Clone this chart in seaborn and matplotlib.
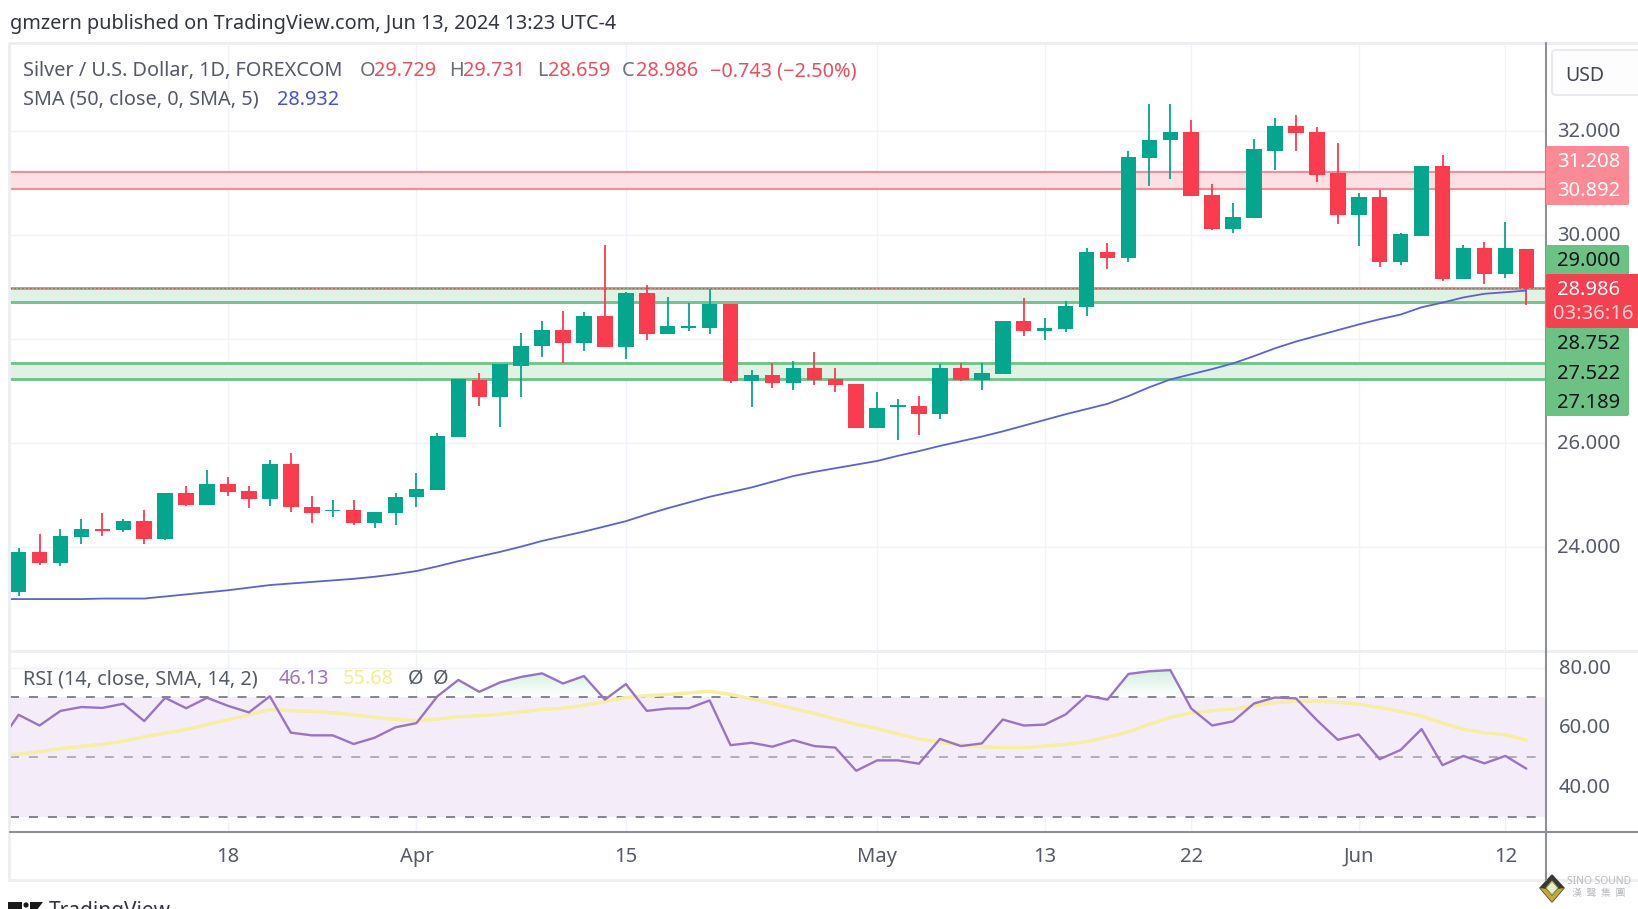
"""Silver / USD daily candles with SMA and RSI, TradingView look."""

import matplotlib
matplotlib.use("Agg")
import matplotlib.pyplot as plt
from matplotlib.patches import Circle, FancyBboxPatch, Polygon, Rectangle
from matplotlib.path import Path
import numpy as np
import pandas as pd
import seaborn as sns

sns.set_theme(style="white")
plt.rcParams["font.family"] = ["Noto Sans", "DejaVu Sans"]

UP = "#04a68d"
DOWN = "#fb3b4e"

# candles, from Mar 4 to Jun 13 2024
opens = [23.12, 23.90, 23.68, 24.18, 24.34, 24.32, 24.50, 24.15, 25.03, 24.81, 25.20, 25.07, 24.92, 25.60, 24.77,
         24.68, 24.70, 24.45, 24.65, 24.95, 25.09, 26.12, 27.21, 26.88, 27.48, 27.86, 28.18, 27.92, 28.44, 27.85,
         28.88, 28.09, 28.22, 28.22, 28.68, 27.19, 27.31, 27.16, 27.44, 27.23, 27.14, 26.28, 26.69, 26.71, 26.55,
         27.44, 27.21, 27.32, 28.35, 28.15, 28.19, 28.62, 29.68, 29.55, 31.49, 31.83, 31.98, 30.77, 30.12, 30.33,
         31.62, 32.11, 31.98, 31.19, 30.39, 30.74, 29.49, 29.99, 31.34, 29.15, 29.75, 29.25, 29.729]
closes = [23.90, 23.68, 24.20, 24.34, 24.31, 24.50, 24.15, 25.04, 24.81, 25.20, 25.05, 24.92, 25.60, 24.76, 24.65,
          24.70, 24.45, 24.66, 24.96, 25.11, 26.13, 27.22, 26.88, 27.51, 27.87, 28.17, 27.92, 28.44, 27.85, 28.88,
          28.09, 28.24, 28.25, 28.68, 27.19, 27.31, 27.16, 27.44, 27.21, 27.12, 26.28, 26.67, 26.71, 26.55, 27.44,
          27.21, 27.34, 28.35, 28.15, 28.21, 28.64, 29.68, 29.55, 31.51, 31.84, 31.98, 30.75, 30.12, 30.34, 31.65,
          32.11, 31.96, 31.16, 30.39, 30.74, 29.49, 30.02, 31.34, 29.15, 29.75, 29.26, 29.75, 28.986]
highs = [23.97, 24.24, 24.34, 24.54, 24.64, 24.54, 24.71, 25.04, 25.17, 25.47, 25.34, 25.17, 25.67, 25.81, 24.97,
         24.90, 24.90, 24.66, 25.03, 25.41, 26.19, 27.22, 27.35, 27.51, 28.11, 28.34, 28.54, 28.51, 29.81, 28.91,
         29.04, 28.81, 28.69, 28.96, 28.68, 27.41, 27.53, 27.58, 27.74, 27.45, 27.14, 26.97, 26.84, 26.91, 27.52,
         27.54, 27.53, 28.35, 28.78, 28.41, 28.73, 29.75, 29.84, 31.62, 32.52, 32.52, 32.22, 30.98, 30.61, 31.85,
         32.25, 32.31, 32.09, 31.78, 30.82, 30.87, 30.05, 31.34, 31.54, 29.81, 29.87, 30.25, 29.731]
lows = [23.05, 23.64, 23.62, 24.06, 24.21, 24.28, 24.06, 24.12, 24.78, 24.81, 24.98, 24.74, 24.78, 24.67, 24.45,
        24.57, 24.41, 24.35, 24.41, 24.77, 25.09, 26.12, 26.71, 26.31, 26.88, 27.65, 27.54, 27.77, 27.85, 27.62,
        27.98, 28.09, 28.15, 28.09, 27.16, 26.68, 27.05, 27.02, 27.11, 26.98, 26.28, 26.28, 26.05, 26.15, 26.45,
        27.19, 27.02, 27.32, 28.06, 27.98, 28.13, 28.45, 29.35, 29.49, 30.95, 31.09, 30.75, 30.09, 30.05, 30.33,
        31.25, 31.62, 31.02, 30.22, 29.79, 29.39, 29.42, 29.99, 29.12, 29.15, 29.05, 29.18, 28.659]

# both indicators hold one bar before the first candle, it runs off the left edge
sma = [22.99, 22.99, 22.99, 22.99, 22.99, 23.00, 23.00, 23.00, 23.04, 23.08, 23.12, 23.16, 23.21, 23.26, 23.29,
       23.32, 23.35, 23.38, 23.42, 23.47, 23.53, 23.62, 23.72, 23.81, 23.90, 24.00, 24.11, 24.20, 24.29, 24.39,
       24.49, 24.62, 24.74, 24.85, 24.96, 25.05, 25.14, 25.25, 25.36, 25.44, 25.51, 25.58, 25.65, 25.75, 25.84,
       25.94, 26.03, 26.12, 26.22, 26.33, 26.44, 26.55, 26.65, 26.75, 26.90, 27.07, 27.22, 27.32, 27.42, 27.53,
       27.67, 27.82, 27.95, 28.06, 28.17, 28.28, 28.38, 28.47, 28.61, 28.70, 28.80, 28.87, 28.90, 28.932]
rsi = [54.0, 64.2, 60.6, 65.5, 66.8, 66.5, 67.9, 62.1, 69.9, 66.4, 69.9, 67.2, 65.0, 70.4, 58.2,
       57.3, 57.3, 54.4, 56.5, 60.0, 61.4, 70.4, 75.9, 71.9, 75.1, 76.9, 78.1, 74.7, 77.2, 69.3,
       74.5, 65.5, 66.3, 66.4, 69.0, 54.0, 54.8, 53.5, 55.7, 53.7, 53.2, 45.4, 48.9, 48.9, 47.8,
       56.1, 53.7, 54.6, 62.6, 60.6, 60.9, 64.3, 70.6, 69.3, 77.9, 78.8, 79.2, 66.3, 60.6, 62.0,
       68.0, 70.0, 69.7, 62.4, 55.8, 57.6, 49.3, 52.4, 59.4, 47.3, 50.4, 47.9, 50.4, 46.13]
rsi_ma = [50.4, 51.0, 51.8, 52.9, 53.6, 54.3, 55.3, 56.8, 58.0, 59.3, 60.9, 62.5, 64.2, 65.9, 65.6,
          65.3, 64.9, 64.2, 63.3, 62.7, 62.2, 62.8, 63.5, 63.9, 64.4, 65.2, 66.0, 66.4, 67.4, 68.6,
          70.0, 70.6, 71.0, 71.5, 72.1, 71.0, 69.5, 68.0, 66.3, 64.7, 62.8, 61.0, 59.6, 57.8, 56.1,
          55.0, 54.1, 53.5, 53.2, 53.2, 53.7, 54.3, 55.2, 56.7, 58.5, 61.0, 63.3, 64.8, 65.6, 66.1,
          67.2, 68.3, 68.7, 68.8, 68.4, 67.8, 66.6, 65.3, 63.8, 61.4, 59.3, 58.2, 57.5, 55.68]

# zones as drawn, the tags beside them round a little differently
red_zone = [30.88, 31.21]
green_zone_high = [28.71, 28.98]
green_zone_low = [27.22, 27.54]

time_ticks = [10, 19, 29, 41, 49, 56, 64, 71]
time_labels = ["18", "Apr", "15", "May", "13", "22", "Jun", "12"]
price_ticks = [24, 26, 28, 30, 32]
price_labels = ["24.000", "26.000", "", "30.000", "32.000"]
rsi_ticks = [40, 60, 80]
rsi_labels = ["40.00", "60.00", "80.00"]

W, H = 1638, 909
X0, X1 = 10, 1546
MAIN_TOP, MAIN_BOT, RSI_BOT = 43, 651, 832
TEXT = 14.3


def to_idx(px):
    return (px - 18.6) / 20.94


def add_axes(fig, top, bottom):
    ax = fig.add_axes([X0 / W, 1 - bottom / H, (X1 - X0) / W, (bottom - top) / H])
    ax.set_xlim(to_idx(X0), to_idx(X1))
    ax.set_xticks(time_ticks)
    ax.set_xticklabels([])
    ax.grid(axis="both", color="#f0f3fa", linewidth=1)
    ax.set_axisbelow(True)
    ax.tick_params(length=0, labelleft=False)
    sns.despine(ax=ax, left=True, bottom=True, top=True, right=True)
    return ax


def draw_candles(ax):
    df = pd.DataFrame({"o": opens, "c": closes, "h": highs, "l": lows})
    df["idx"] = df.index
    df["color"] = np.where(df["c"] >= df["o"], UP, DOWN)
    ax.vlines(df["idx"], df["l"], df["h"], colors=df["color"], linewidth=1.3, zorder=4)
    low_edge = df[["o", "c"]].min(axis=1)
    height = (df["c"] - df["o"]).abs().clip(lower=0.03)
    ax.bar(df["idx"], height, bottom=low_edge, width=0.74, color=df["color"], linewidth=0, zorder=5)


def draw_main(fig):
    ax = add_axes(fig, MAIN_TOP, MAIN_BOT)
    ax.set_ylim(21.99, 33.70)
    ax.set_yticks(price_ticks)
    for (lo, hi), col, fill, lw in [(red_zone, "#ef8f9a", "#fde0e3", 1.6),
                                    (green_zone_high, "#72c48a", "#dff2e3", 2.1),
                                    (green_zone_low, "#72c48a", "#dff2e3", 2.1)]:
        ax.axhspan(lo, hi, facecolor=fill, edgecolor="none", zorder=1)
        ax.axhline(lo, color=col, linewidth=lw, zorder=2)
        ax.axhline(hi, color=col, linewidth=lw, zorder=2)
    ax.axhline(closes[-1], color=DOWN, linewidth=0.8, linestyle=(0, (1.5, 2)), zorder=3)
    draw_candles(ax)
    sns.lineplot(x=np.arange(-1, len(sma) - 1), y=sma, ax=ax, color="#5a62d8", linewidth=1.3, zorder=6)
    ax.set_xlim(to_idx(X0), to_idx(X1))
    return ax


def draw_rsi(fig):
    ax = add_axes(fig, MAIN_BOT, RSI_BOT)
    ax.set_ylim(24.87, 85.6)
    ax.set_yticks(rsi_ticks)
    idx = np.arange(-1, len(rsi) - 1)
    ax.axhspan(30, 70, facecolor="#f4edf9", edgecolor="none", zorder=1)

    # green fade between the RSI line and the 70 level
    poly = ax.fill_between(idx, rsi, 70, where=np.array(rsi) > 70, interpolate=True, alpha=0)
    fade = np.linspace(0, 1, 64).reshape(-1, 1)
    img = ax.imshow(fade, extent=(idx[0], idx[-1], 70, 80), origin="upper", aspect="auto",
                    cmap=matplotlib.colors.LinearSegmentedColormap.from_list("fade", ["#cfeedb", "#ffffff"]),
                    zorder=2)
    img.set_clip_path(Path.make_compound_path(*poly.get_paths()), transform=ax.transData)

    for level, col in [(70, "#787b86"), (50, "#a8aab2"), (30, "#787b86")]:
        ax.axhline(level, color=col, linewidth=1.3, linestyle=(0, (5, 5.5)), zorder=3)
    sns.lineplot(x=idx, y=rsi_ma, ax=ax, color="#f6eea0", linewidth=2.5, zorder=4)
    sns.lineplot(x=idx, y=rsi, ax=ax, color="#9a74c0", linewidth=1.7, zorder=5)
    ax.set_xlim(to_idx(X0), to_idx(X1))
    ax.set_ylim(24.87, 85.6)
    ax.set_xlabel("")
    return ax


def tag(ov, top, bottom, color, right=1629):
    ov.add_patch(FancyBboxPatch((1546, top), right - 1546, bottom - top, boxstyle="round,pad=0,rounding_size=2",
                                facecolor=color, edgecolor="none", zorder=3))


def draw_chrome(fig, main_ax, rsi_ax):
    ov = fig.add_axes([0, 0, 1, 1], facecolor="none")
    ov.set_xlim(0, W)
    ov.set_ylim(H, 0)
    ov.axis("off")

    # frame and separators
    ov.add_patch(Rectangle((X0 - 1, MAIN_TOP), W - X0 + 2, 880 - MAIN_TOP, fill=False, edgecolor="#eceef2", linewidth=2))
    ov.plot([X0, W], [MAIN_BOT, MAIN_BOT], color="#eceef2", linewidth=2)
    ov.plot([X0, W], [RSI_BOT, RSI_BOT], color="#8e9097", linewidth=1.5)
    ov.plot([X1, X1], [MAIN_TOP, 880], color="#8e9097", linewidth=1.5)

    base = dict(ha="left", va="center", fontsize=TEXT, color="#555a66")
    ov.text(10, 24, "gmzern published on TradingView.com, Jun 13, 2024 13:23 UTC-4", **{**base, "color": "#33363f"})
    ov.text(23, 71, "Silver / U.S. Dollar, 1D, FOREXCOM", **base)
    row = [(360, "O", "#6b6f7a"), (374, "29.729", "#e8505e"), (449, "H", "#6b6f7a"), (463, "29.731", "#e8505e"),
           (537, "L", "#6b6f7a"), (548, "28.659", "#e8505e"), (622, "C", "#6b6f7a"), (636, "28.986", "#e8505e"),
           (710, "\u22120.743 (\u22122.50%)", "#e8505e")]
    for x, s, col in row:
        ov.text(x, 71, s, **{**base, "color": col})
    ov.text(23, 100, "SMA (50, close, 0, SMA, 5)", **base)
    ov.text(277, 100, "28.932", **{**base, "color": "#4a50d8"})
    ov.text(23, 679, "RSI (14, close, SMA, 14, 2)", **base)
    ov.text(279, 679, "46.13", **{**base, "color": "#9a74c0"})
    ov.text(343, 679, "55.68", **{**base, "color": "#f4ee8e"})
    ov.text(408, 679, "\u00d8", **base)
    ov.text(433, 679, "\u00d8", **base)

    # axis labels, through the panes' own scales
    for val, s in zip(price_ticks, price_labels):
        y = H - main_ax.transData.transform((0, val))[1] * H / fig.bbox.height
        ov.text(1589, y + 1, s, ha="center", va="center", fontsize=14.5, color="#555a66")
    for val, s in zip(rsi_ticks, rsi_labels):
        y = H - rsi_ax.transData.transform((0, val))[1] * H / fig.bbox.height
        ov.text(1585, y + 1, s, ha="center", va="center", fontsize=14.5, color="#555a66")
    for val, s in zip(time_ticks, time_labels):
        x = main_ax.transData.transform((val, 0))[0] * W / fig.bbox.width
        ov.text(x, 857, s, ha="center", va="center", fontsize=14.5, color="#555a66")

    # price tags
    tag(ov, 146, 205, "#fb8a95")
    tag(ov, 245, 276, "#6cc285")
    tag(ov, 326, 416, "#6cc285")
    tag(ov, 274, 328, "#f5404f", right=W + 3)
    for y, s, col in [(162, "31.208", "white"), (191, "30.892", "white"), (261, "29.000", "#101418"),
                      (344, "28.752", "#101418"), (374, "27.522", "#101418"), (403, "27.189", "#101418"),
                      (290, "28.986", "white")]:
        ov.text(1589, y, s, ha="center", va="center", fontsize=14.5, color=col, zorder=4)
    ov.text(1593, 314, "03:36:16", ha="center", va="center", fontsize=14.5, color="#ffd5d9", zorder=4)

    # currency button
    ov.add_patch(FancyBboxPatch((1552, 50), 100, 45, boxstyle="round,pad=0,rounding_size=4",
                                facecolor="#fdfdfe", edgecolor="#e8eaee", linewidth=1.5, zorder=3, clip_on=True))
    ov.text(1585, 76, "USD", ha="center", va="center", fontsize=14, color="#444750", zorder=4)

    # logos
    ov.add_patch(Rectangle((8, 902), 14, 9, facecolor="#1a1a1a", edgecolor="none"))
    ov.add_patch(Circle((26, 905), 2.6, facecolor="#1a1a1a", edgecolor="none"))
    ov.add_patch(Polygon([[30, 902], [43, 902], [36, 911], [30, 911]], facecolor="#1a1a1a", edgecolor="none"))
    ov.text(49, 911, "TradingView", ha="left", va="center", fontsize=15, color="#33363f")
    ov.add_patch(Polygon([[1552, 875], [1540, 888], [1552, 902], [1564, 888]], facecolor="#3a3a32",
                         edgecolor="#3a3a32", linewidth=1))
    ov.add_patch(Polygon([[1540, 888], [1552, 902], [1564, 888], [1558, 889], [1552, 896], [1546, 889]],
                         facecolor="#c8a838", edgecolor="none"))
    ov.add_patch(Polygon([[1552, 881], [1546, 888], [1552, 895], [1558, 888]], facecolor="#e8efc8",
                         edgecolor="#8aa060", linewidth=0.8))
    ov.text(1599, 882, "SINO SOUND", ha="center", va="center", fontsize=7.4, color="#b9bbbf", fontweight="bold")
    ov.text(1599, 893, "\u6f22  \u8072  \u96c6  \u5718", ha="center", va="center", fontsize=7.2, color="#b9bbbf",
            family=["Noto Sans CJK TC", "DejaVu Sans"])


def main():
    fig = plt.figure(figsize=(W / 100, H / 100), dpi=100, facecolor="white")
    main_ax = draw_main(fig)
    rsi_ax = draw_rsi(fig)
    draw_chrome(fig, main_ax, rsi_ax)
    fig.savefig("out.png", dpi=100)
    plt.close(fig)


if __name__ == "__main__":
    main()
